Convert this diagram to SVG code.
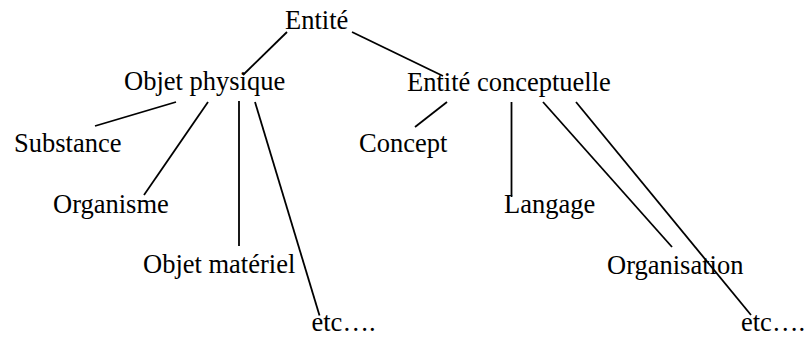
<svg xmlns="http://www.w3.org/2000/svg" width="806" height="337" viewBox="0 0 806 337">
  <style>
    .lbl { font-family: "Liberation Serif", "Times New Roman", serif; font-size: 26.5px; fill: #000; }
    .edge { stroke: #000; stroke-width: 1.8; fill: none; stroke-linecap: butt; }
  </style>
  <rect width="806" height="337" fill="#fff"/>

  <!-- connectors -->
  <g id="connectors">
    <line class="edge" x1="287" y1="32" x2="243" y2="75"/>
    <line class="edge" x1="352" y1="32" x2="443" y2="76"/>
    <line class="edge" x1="176" y1="102" x2="95" y2="126"/>
    <line class="edge" x1="208" y1="102" x2="144" y2="195"/>
    <line class="edge" x1="239" y1="101" x2="239" y2="246"/>
    <line class="edge" x1="255" y1="102" x2="319.5" y2="315.5"/>
    <line class="edge" x1="447" y1="102" x2="415" y2="127"/>
    <line class="edge" x1="511.5" y1="102" x2="511.5" y2="197"/>
    <line class="edge" x1="543" y1="102" x2="672" y2="247"/>
    <line class="edge" x1="576" y1="102" x2="751" y2="315"/>
  </g>

  <!-- nodes -->
  <g id="entite"><text class="lbl" x="285" y="29">Entité</text></g>
  <g id="objet-physique"><text class="lbl" x="124" y="90">Objet physique</text></g>
  <g id="entite-conceptuelle"><text class="lbl" x="407" y="91">Entité conceptuelle</text></g>
  <g id="substance"><text class="lbl" x="14" y="152">Substance</text></g>
  <g id="organisme"><text class="lbl" x="53" y="213">Organisme</text></g>
  <g id="objet-materiel"><text class="lbl" x="143" y="273">Objet matériel</text></g>
  <g id="etc-physique"><text class="lbl" x="311.5" y="331">etc….</text></g>
  <g id="concept"><text class="lbl" x="359" y="152">Concept</text></g>
  <g id="langage"><text class="lbl" x="504" y="213">Langage</text></g>
  <g id="organisation"><text class="lbl" x="607" y="274">Organisation</text></g>
  <g id="etc-conceptuel"><text class="lbl" x="741" y="331">etc….</text></g>
</svg>
